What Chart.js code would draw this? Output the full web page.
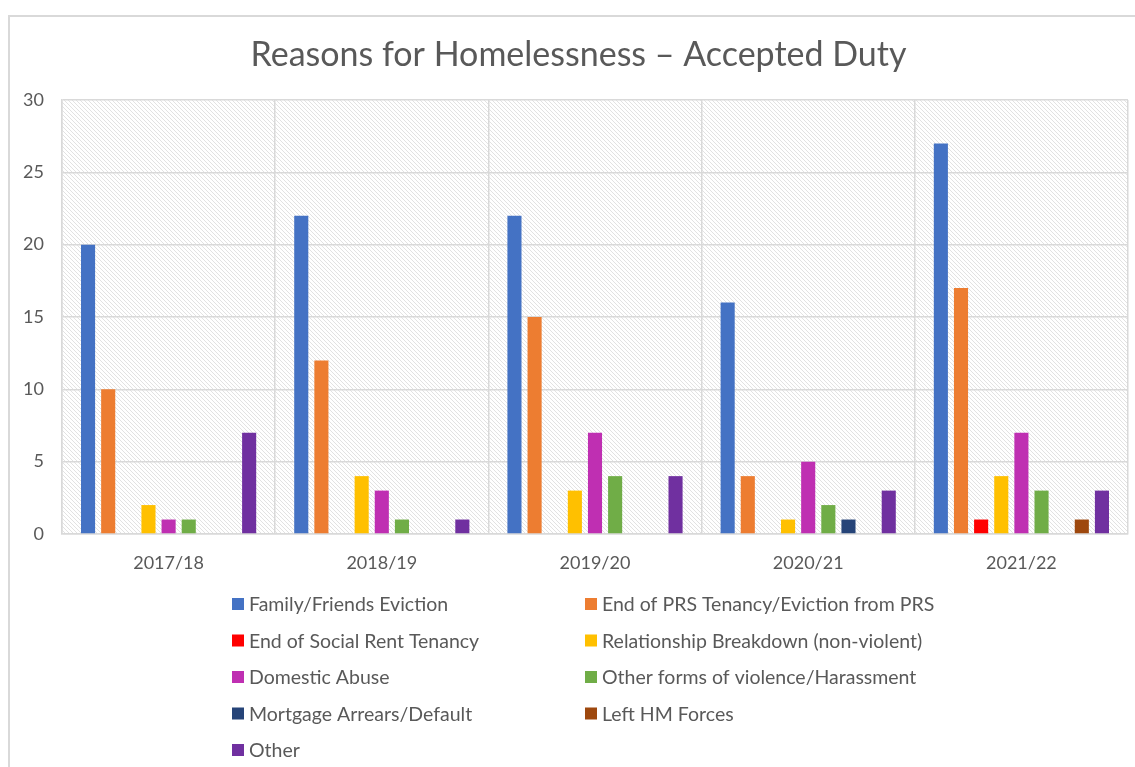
<!DOCTYPE html>
<html lang="en">
<head>
  <meta charset="UTF-8">
  <title>Reasons for Homelessness – Accepted Duty</title>
  <script src="https://cdn.jsdelivr.net/npm/chart.js"></script>
  <style>
    html, body { margin: 0; padding: 0; background: #fff; overflow: hidden; }
    #frame {
      position: absolute; left: 8px; top: 15px; width: 1160px; height: 780px;
      border: 2px solid #d9d9d9; box-sizing: border-box;
    }
    #wrap { position: absolute; left: 0; top: 0; width: 1135px; height: 767px; }
  </style>
</head>
<body>
  <div id="frame"></div>
  <div id="wrap"><canvas id="chart"></canvas></div>

  <script>
    // categories
    const years = ["2017/18", "2018/19", "2019/20", "2020/21", "2021/22"];

    // series values
    const familyFriends   = [20, 22, 22, 16, 27];
    const endPRS          = [10, 12, 15, 4, 17];
    const endSocialRent   = [0, 0, 0, 0, 1];
    const relationship    = [2, 4, 3, 1, 4];
    const domesticAbuse   = [1, 3, 7, 5, 7];
    const otherViolence   = [1, 1, 4, 2, 3];
    const mortgage        = [0, 0, 0, 1, 0];
    const leftForces      = [0, 0, 0, 0, 1];
    const other           = [7, 1, 4, 3, 3];

    const seriesNames = [
      "Family/Friends Eviction", "End of PRS Tenancy/Eviction from PRS",
      "End of Social Rent Tenancy", "Relationship Breakdown (non-violent)",
      "Domestic Abuse", "Other forms of violence/Harassment",
      "Mortgage Arrears/Default", "Left HM Forces", "Other"
    ];
    const seriesValues = [familyFriends, endPRS, endSocialRent, relationship,
      domesticAbuse, otherViolence, mortgage, leftForces, other];
    const seriesColors = ["#4472C4", "#ED7D31", "#FF0000", "#FFC000",
      "#BF2FB2", "#70AD47", "#264478", "#9E480E", "#7030A0"];

    const yTicks = [0, 5, 10, 15, 20, 25, 30];
    const chartTitle = "Reasons for Homelessness – Accepted Duty";

    const FONT = "Lato, 'Open Sans', sans-serif";
    const TEXT = "#595959";
    const GRID = "#d9d9d9";

    // diagonal hatch for the plot area
    function makeHatch() {
      const c = document.createElement("canvas");
      c.width = 4; c.height = 4;
      const g = c.getContext("2d");
      g.fillStyle = "#fff";
      g.fillRect(0, 0, 4, 4);
      g.fillStyle = "#e2e2e2";
      for (let i = 0; i < 4; i++) g.fillRect(i, i, 1, 1);
      return c;
    }

    const hatchPlugin = {
      id: "hatch",
      beforeDraw(chart) {
        const { ctx, chartArea: a } = chart;
        ctx.save();
        ctx.fillStyle = ctx.createPattern(makeHatch(), "repeat");
        ctx.fillRect(a.left, a.top, a.right - a.left, a.bottom - a.top);
        ctx.restore();
      }
    };

    // title centred on the outer frame, plus a two-column legend
    const decorPlugin = {
      id: "decor",
      afterDraw(chart) {
        const ctx = chart.ctx;
        ctx.save();
        ctx.fillStyle = TEXT;
        ctx.font = "34px " + FONT;
        ctx.textAlign = "center";
        ctx.textBaseline = "middle";
        ctx.fillText(chartTitle, 578.5, 55);

        const cols = [232, 585];
        const rowY = [604, 640.5, 677, 713.5, 750];
        ctx.font = "19.5px " + FONT;
        ctx.textAlign = "left";
        chart.data.datasets.forEach((ds, i) => {
          const x = cols[i % 2];
          const y = rowY[Math.floor(i / 2)];
          ctx.fillStyle = ds.backgroundColor;
          ctx.fillRect(x, y - 6, 12, 12);
          ctx.fillStyle = TEXT;
          ctx.fillText(ds.label, x + 17, y + 1);
        });
        ctx.restore();
      }
    };

    const datasets = seriesNames.map((name, i) => ({
      label: name,
      data: seriesValues[i],
      backgroundColor: seriesColors[i],
      borderWidth: 0,
      categoryPercentage: 0.85,
      barPercentage: 0.7
    }));

    new Chart(document.getElementById("chart"), {
      type: "bar",
      data: { labels: years, datasets: datasets },
      options: {
        responsive: true,
        maintainAspectRatio: false,
        animation: false,
        layout: { padding: { left: 0, right: 7, top: 100, bottom: 173 } },
        plugins: {
          legend: { display: false },
          tooltip: { enabled: false },
          title: { display: false }
        },
        scales: {
          x: {
            grid: { color: GRID, lineWidth: 1.5, drawTicks: false, offset: true },
            border: { color: GRID, width: 1.5 },
            ticks: { color: TEXT, font: { family: FONT, size: 18 }, padding: 18 },
            afterFit(scale) { scale.height = 60; }
          },
          y: {
            min: 0, max: 30,
            grid: { color: GRID, lineWidth: 1.5, drawTicks: false },
            border: { color: GRID, width: 1.5 },
            ticks: {
              stepSize: 5, color: TEXT, padding: 18,
              font: { family: FONT, size: 18 }
            },
            afterBuildTicks(scale) { scale.ticks = yTicks.map(v => ({ value: v })); },
            afterFit(scale) { scale.width = 62; }
          }
        }
      },
      plugins: [hatchPlugin, decorPlugin]
    });
  </script>
</body>
</html>
